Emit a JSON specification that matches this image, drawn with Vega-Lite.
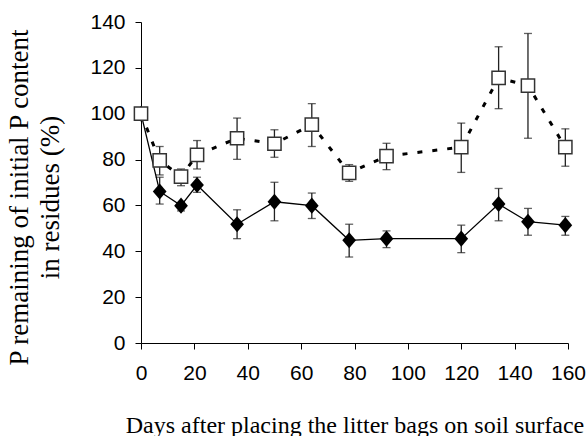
{
  "$schema": "https://vega.github.io/schema/vega-lite/v6.json",
  "autosize": {"type": "none"},
  "width": 427,
  "height": 321,
  "padding": {"left": 141, "top": 22, "right": 20, "bottom": 93},
  "background": "white",
  "config": {
    "view": {"stroke": null},
    "axis": {
      "grid": false,
      "domainColor": "black",
      "domainWidth": 1,
      "tickColor": "black",
      "tickWidth": 1,
      "tickSize": 6,
      "labelFont": "Arial, 'Liberation Sans', sans-serif",
      "labelFontSize": 21,
      "labelColor": "black",
      "labelFlush": false,
      "labelOverlap": false,
      "titleFont": "'Times New Roman', 'Liberation Serif', serif",
      "titleFontWeight": "normal",
      "titleColor": "black"
    }
  },
  "data": {
    "values": [
      {"day": 0, "series": "A", "value": 100, "lo": 100, "hi": 100},
      {"day": 7, "series": "A", "value": 79.6, "lo": 73.3, "hi": 85.7},
      {"day": 15, "series": "A", "value": 72.6, "lo": 68.6, "hi": 75.9},
      {"day": 21, "series": "A", "value": 82, "lo": 75.9, "hi": 88.3},
      {"day": 36, "series": "A", "value": 89.3, "lo": 80.1, "hi": 98.1},
      {"day": 50, "series": "A", "value": 86.9, "lo": 81, "hi": 93},
      {"day": 64, "series": "A", "value": 95.2, "lo": 85.7, "hi": 104.4},
      {"day": 78, "series": "A", "value": 74.2, "lo": 70.5, "hi": 77.8},
      {"day": 92, "series": "A", "value": 81.5, "lo": 75.6, "hi": 87.1},
      {"day": 120, "series": "A", "value": 85.4, "lo": 74.4, "hi": 95.9},
      {"day": 134, "series": "A", "value": 115.6, "lo": 102.2, "hi": 129.2},
      {"day": 145, "series": "A", "value": 112.3, "lo": 89.3, "hi": 135},
      {"day": 159, "series": "A", "value": 85.4, "lo": 77.1, "hi": 93.4},
      {"day": 0, "series": "B", "value": 100, "lo": 100, "hi": 100},
      {"day": 7, "series": "B", "value": 66.1, "lo": 60.6, "hi": 72.3},
      {"day": 15, "series": "B", "value": 59.9, "lo": 57.6, "hi": 61.3},
      {"day": 21, "series": "B", "value": 68.9, "lo": 65.7, "hi": 72.3},
      {"day": 36, "series": "B", "value": 51.8, "lo": 45.5, "hi": 58.1},
      {"day": 50, "series": "B", "value": 61.6, "lo": 53.3, "hi": 70.1},
      {"day": 64, "series": "B", "value": 59.9, "lo": 54.3, "hi": 65.4},
      {"day": 78, "series": "B", "value": 44.8, "lo": 37.5, "hi": 51.8},
      {"day": 92, "series": "B", "value": 45.5, "lo": 41.6, "hi": 48.9},
      {"day": 120, "series": "B", "value": 45.5, "lo": 39.4, "hi": 51.4},
      {"day": 134, "series": "B", "value": 60.6, "lo": 53.3, "hi": 67.4},
      {"day": 145, "series": "B", "value": 52.9, "lo": 47, "hi": 58.7},
      {"day": 159, "series": "B", "value": 51.4, "lo": 47, "hi": 55.2}
    ]
  },
  "encoding": {
    "x": {
      "field": "day",
      "type": "quantitative",
      "scale": {"domain": [0, 160], "nice": false},
      "axis": {
        "values": [0, 20, 40, 60, 80, 100, 120, 140, 160],
        "labelPadding": 13,
        "title": "Days after placing the litter bags on soil surface",
        "titleFontSize": 24,
        "titleBaseline": "alphabetic",
        "titleY": 89
      }
    }
  },
  "layer": [
    {
      "transform": [{"filter": "datum.day > 0"}],
      "mark": {"type": "rule", "color": "#222", "strokeWidth": 1.3},
      "encoding": {
        "y": {
          "field": "lo",
          "type": "quantitative",
          "scale": {"domain": [0, 140], "nice": false},
          "axis": {
            "values": [0, 20, 40, 60, 80, 100, 120, 140],
            "labelPadding": 10,
            "title": ["P remaining of initial P content", "in residues (%)"],
            "titleFontSize": 27,
            "titleLineHeight": 31,
            "titleAngle": -90,
            "titleBaseline": "alphabetic",
            "titleX": -114,
            "titleY": 175
          }
        },
        "y2": {"field": "hi"}
      }
    },
    {
      "transform": [{"filter": "datum.day > 0"}],
      "mark": {"type": "tick", "orient": "horizontal", "color": "#222", "size": 8, "thickness": 1.3},
      "encoding": {"y": {"field": "lo", "type": "quantitative"}}
    },
    {
      "transform": [{"filter": "datum.day > 0"}],
      "mark": {"type": "tick", "orient": "horizontal", "color": "#222", "size": 8, "thickness": 1.3},
      "encoding": {"y": {"field": "hi", "type": "quantitative"}}
    },
    {
      "transform": [{"filter": "datum.series == 'B'"}],
      "mark": {"type": "line", "color": "black", "strokeWidth": 1.3},
      "encoding": {"y": {"field": "value", "type": "quantitative"}}
    },
    {
      "transform": [{"filter": "datum.series == 'A'"}],
      "mark": {"type": "line", "color": "black", "strokeWidth": 3, "strokeDash": [5, 10]},
      "encoding": {"y": {"field": "value", "type": "quantitative"}}
    },
    {
      "transform": [{"filter": "datum.series == 'B'"}],
      "mark": {"type": "point", "shape": "M-0.85,0L0,-1L0.85,0L0,1Z", "filled": true, "color": "black", "size": 260, "opacity": 1},
      "encoding": {"y": {"field": "value", "type": "quantitative"}}
    },
    {
      "transform": [{"filter": "datum.series == 'A'"}],
      "mark": {"type": "point", "shape": "square", "filled": true, "fill": "white", "stroke": "#333", "strokeWidth": 1.5, "size": 175, "opacity": 1},
      "encoding": {"y": {"field": "value", "type": "quantitative"}}
    }
  ]
}
